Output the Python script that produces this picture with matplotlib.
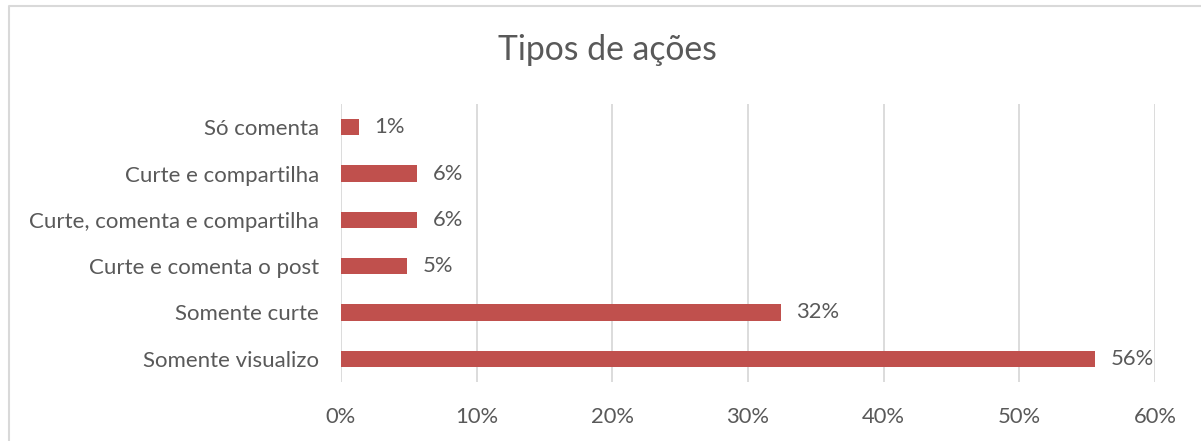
import numpy as np
import matplotlib
matplotlib.use('Agg')
from matplotlib import pyplot as plt
from matplotlib.lines import Line2D

categories = ['Somente visualizo', 'Somente curte', 'Curte e comenta o post',
              'Curte, comenta e compartilha', 'Curte e compartilha', 'Só comenta']
values = [55.6, 32.4, 4.9, 5.6, 5.6, 1.3]
xticks = [0, 10, 20, 30, 40, 50, 60]

text_col = '#595959'
bar_col = '#C0504D'
grid_col = '#D9D9D9'

plt.rcParams['font.family'] = ['Lato', 'DejaVu Sans']

fig = plt.figure(figsize=(12.01, 4.41), dpi=100)
W, H = 1201, 441

# chart frame, only left and top edges are visible
fx, fy = 8.5 / W, 1 - 5.5 / H
fig.lines.append(Line2D([fx, fx, 1.0], [0.0, fy, fy], transform=fig.transFigure,
                        color='#D9D9D9', lw=1.5))

ax = fig.add_axes([341 / W, 1 - 382 / H, (1155 - 341) / W, (382 - 104) / H])
y = np.arange(len(categories))
ax.barh(y, values, height=0.35, color=bar_col)
for yi, v in zip(y, values):
    ax.text(v + 1.15, yi, '%d%%' % round(v), va='center', ha='left', fontsize=15.8, color=text_col)

ax.set_xlim(0, 60)
ax.set_ylim(-0.5, len(categories) - 0.5)
ax.set_xticks(xticks)
ax.set_xticklabels(['%d%%' % t for t in xticks])
ax.set_yticks(y)
ax.set_yticklabels(categories)
ax.tick_params(axis='both', length=0, labelsize=15.8, colors=text_col)
ax.tick_params(axis='y', labelsize=16, pad=16)
ax.tick_params(axis='x', pad=18)
ax.grid(axis='x', color=grid_col, lw=1.3)
ax.set_axisbelow(True)
for s in ax.spines.values():
    s.set_visible(False)

fig.text(607 / W, 1 - 50 / H, 'Tipos de ações', ha='center', va='center', fontsize=24.3, color=text_col)

fig.savefig('out.png', dpi=100)
